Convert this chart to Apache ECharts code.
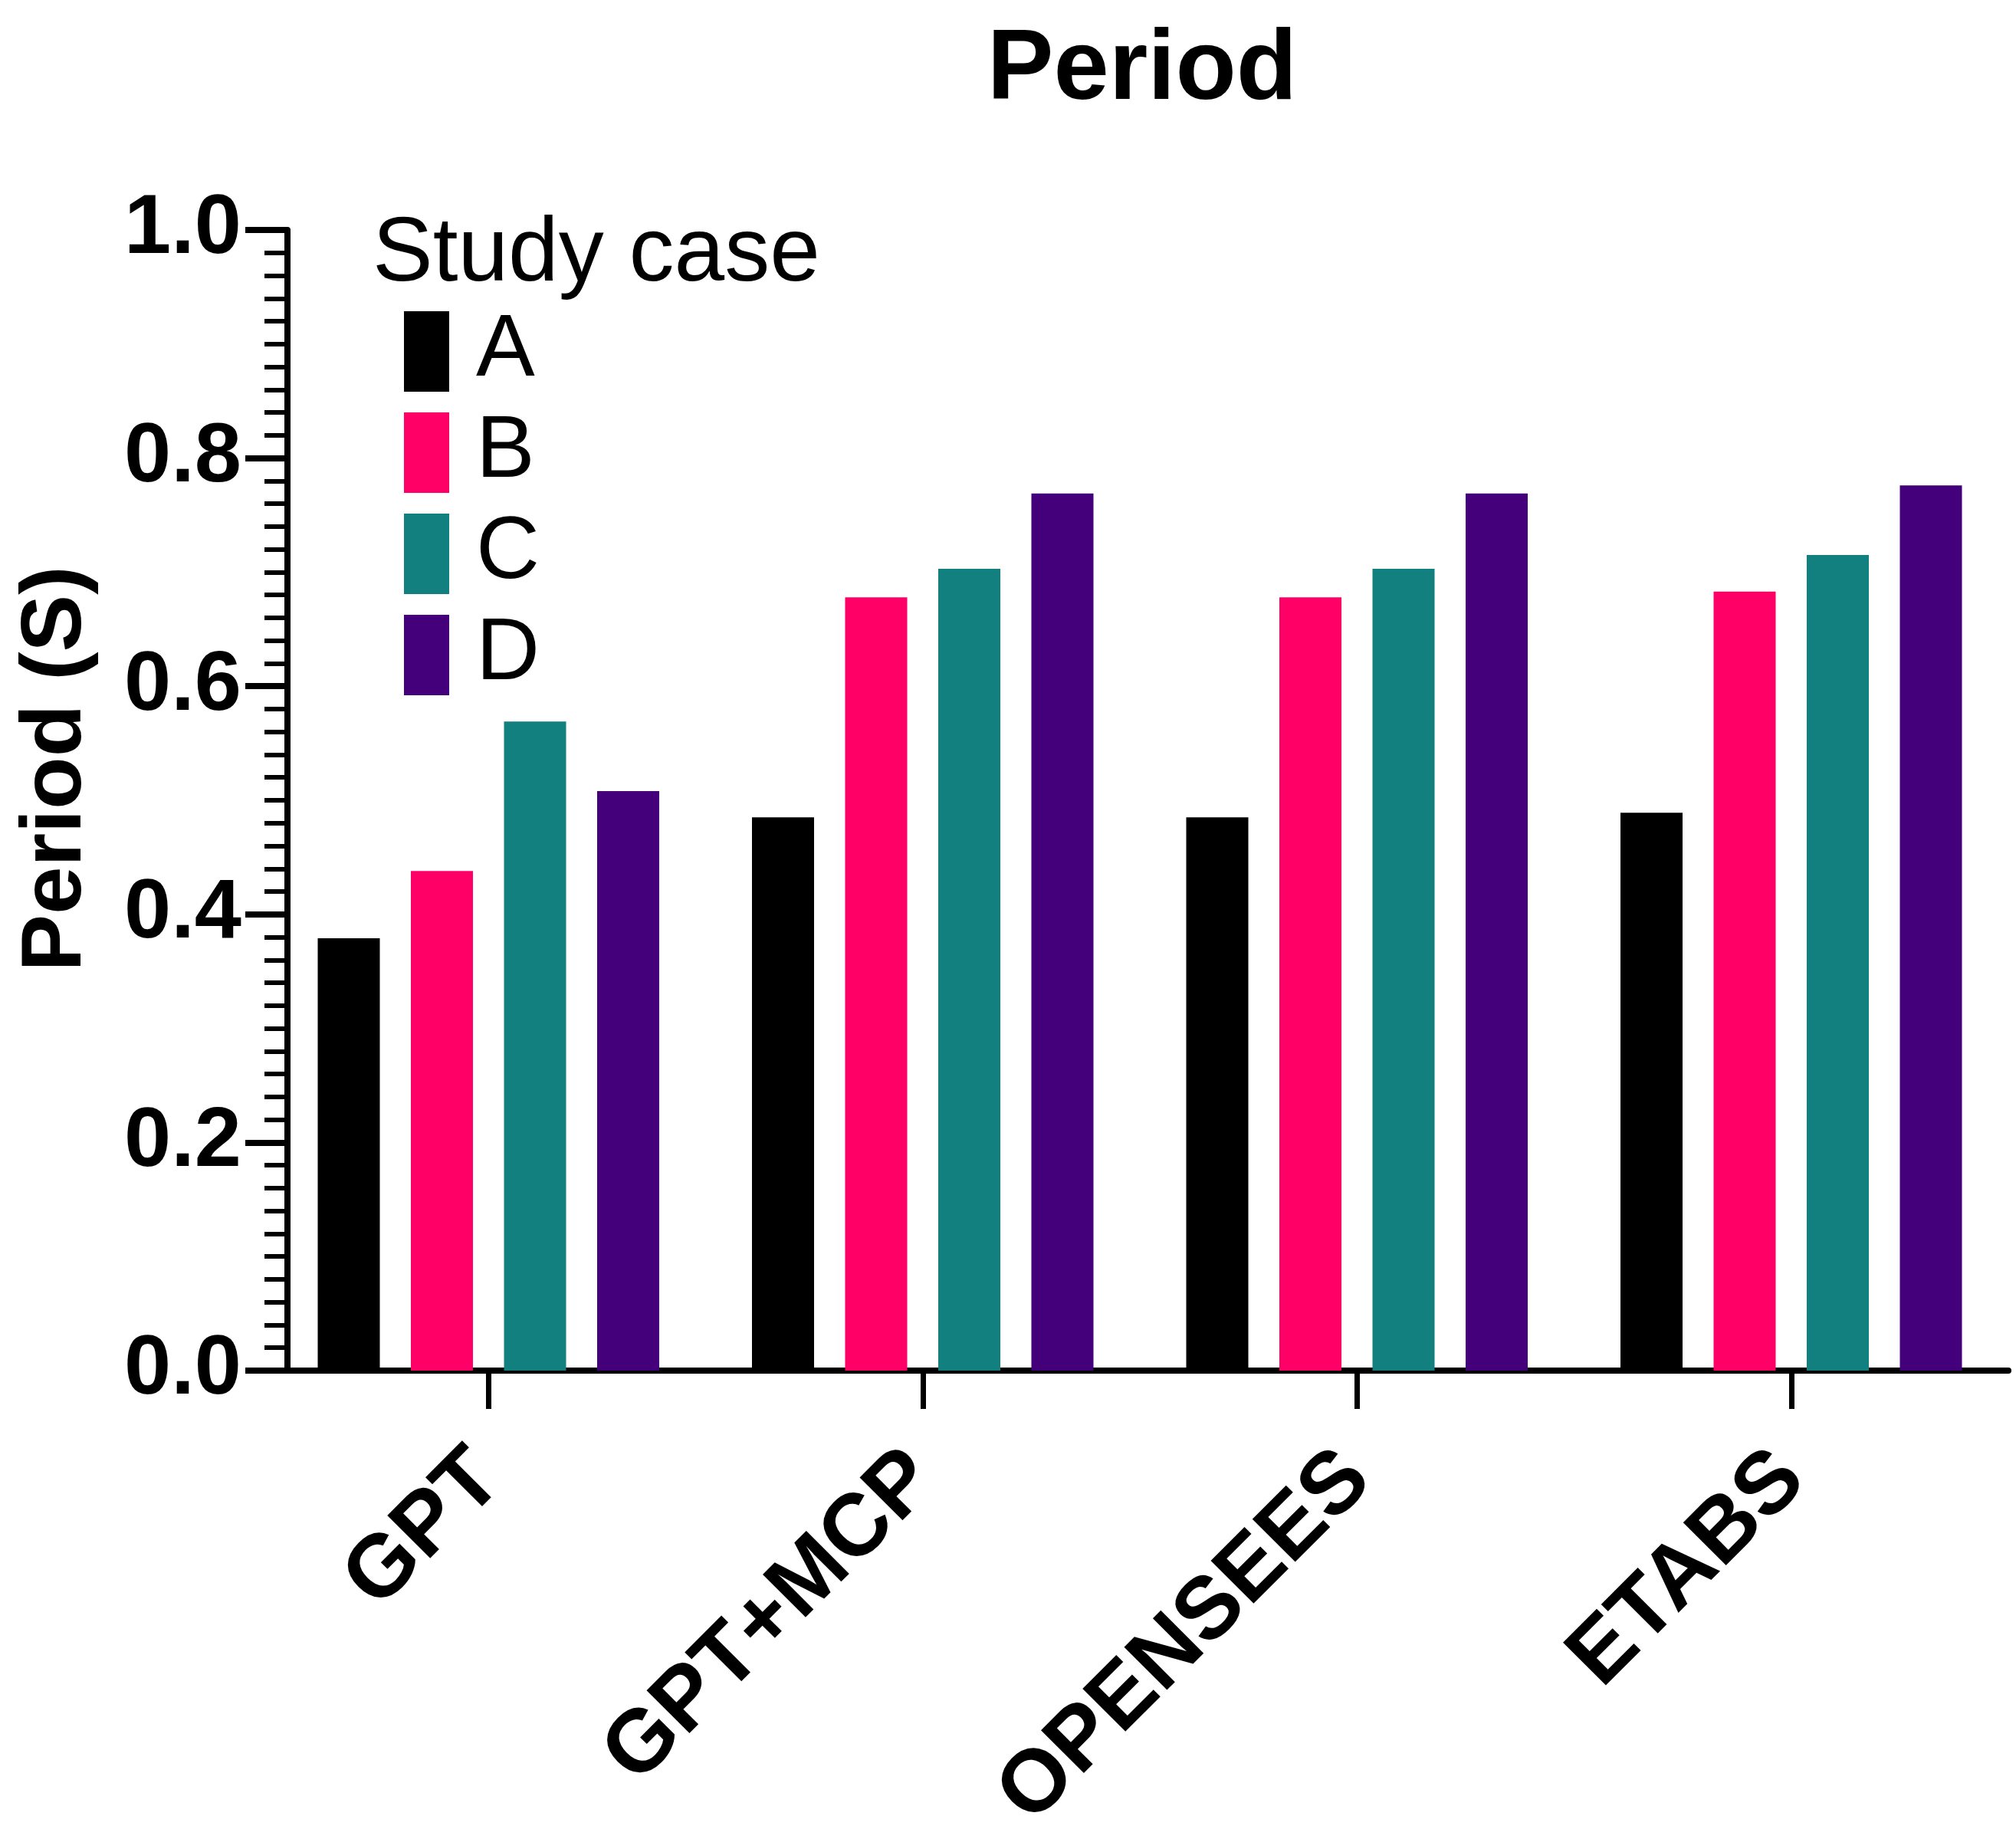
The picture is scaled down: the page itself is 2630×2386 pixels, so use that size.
<!DOCTYPE html>
<html>
<head>
<meta charset="utf-8">
<script src="https://cdn.jsdelivr.net/npm/echarts@6/dist/echarts.min.js"></script>
<style>
html,body{margin:0;padding:0;background:#fff;}
#chart{width:2630px;height:2386px;}
</style>
</head>
<body>
<div id="chart"></div>
<script>
const categories = ['GPT', 'GPT+MCP', 'OPENSEES', 'ETABS'];
const seriesNames = ['A', 'B', 'C', 'D'];
const valuesA = [0.379, 0.485, 0.485, 0.489];
const valuesB = [0.438, 0.678, 0.678, 0.683];
const valuesC = [0.569, 0.703, 0.703, 0.715];
const valuesD = [0.508, 0.769, 0.769, 0.776];
const colors = ['#000000', '#FF0066', '#12807F', '#43007A'];
const yTicks = [0.0, 0.2, 0.4, 0.6, 0.8, 1.0];

const FONT = '"Liberation Sans", Arial, Helvetica, sans-serif';
const allValues = [valuesA, valuesB, valuesC, valuesD];

const chart = echarts.init(document.getElementById('chart'), null, {renderer: 'canvas'});
chart.setOption({
  backgroundColor: '#ffffff',
  animation: false,
  title: [
    {
      text: 'Period',
      left: 1490,
      top: 28,
      textAlign: 'center',
      padding: 0,
      textStyle: {fontFamily: FONT, fontSize: 130, fontWeight: 'bold', color: '#000'}
    },
    {
      text: 'Study case',
      left: 486,
      top: 274,
      padding: 0,
      textStyle: {fontFamily: FONT, fontSize: 118, fontWeight: 'normal', color: '#000'}
    }
  ],
  legend: {
    orient: 'vertical',
    left: 527,
    top: 401,
    padding: 0,
    itemWidth: 59,
    itemHeight: 105,
    itemGap: 17,
    icon: 'rect',
    data: seriesNames,
    textStyle: {fontFamily: FONT, fontSize: 115, color: '#000', padding: [0, 0, 0, 30]}
  },
  grid: {left: 354, right: 10, top: 300, bottom: 2386 - 1788, containLabel: false, outerBoundsMode: 'none'},
  xAxis: {
    type: 'category',
    data: categories,
    boundaryGap: true,
    axisLine: {show: true, lineStyle: {color: '#000', width: 8}},
    axisTick: {show: true, alignWithLabel: true, length: 50, lineStyle: {color: '#000', width: 7}},
    axisLabel: {
      rotate: 45,
      margin: 124,
      interval: 0,
      fontFamily: FONT,
      fontSize: 115,
      fontWeight: 'bold',
      color: '#000'
    },
    splitLine: {show: false}
  },
  yAxis: {
    type: 'value',
    min: 0,
    max: 1,
    interval: 0.2,
    offset: -21,
    name: 'Period (S)',
    nameLocation: 'middle',
    nameGap: 245,
    nameTextStyle: {fontFamily: FONT, fontSize: 112, fontWeight: 'bold', color: '#000', padding: [0, 0, 0, 82]},
    axisLine: {show: true, lineStyle: {color: '#000', width: 8}},
    axisTick: {show: true, length: 55, lineStyle: {color: '#000', width: 8}},
    minorTick: {show: true, splitNumber: 10, length: 30, lineStyle: {color: '#000', width: 6}},
    axisLabel: {
      margin: 60,
      fontFamily: FONT,
      fontSize: 110,
      fontWeight: 'bold',
      color: '#000',
      formatter: function (v) { return v.toFixed(1); }
    },
    splitLine: {show: false}
  },
  series: seriesNames.map(function (name, i) {
    return {
      name: name,
      type: 'bar',
      data: allValues[i],
      barWidth: 81,
      barGap: '50%',
      itemStyle: {color: colors[i]}
    };
  })
});
</script>
</body>
</html>
